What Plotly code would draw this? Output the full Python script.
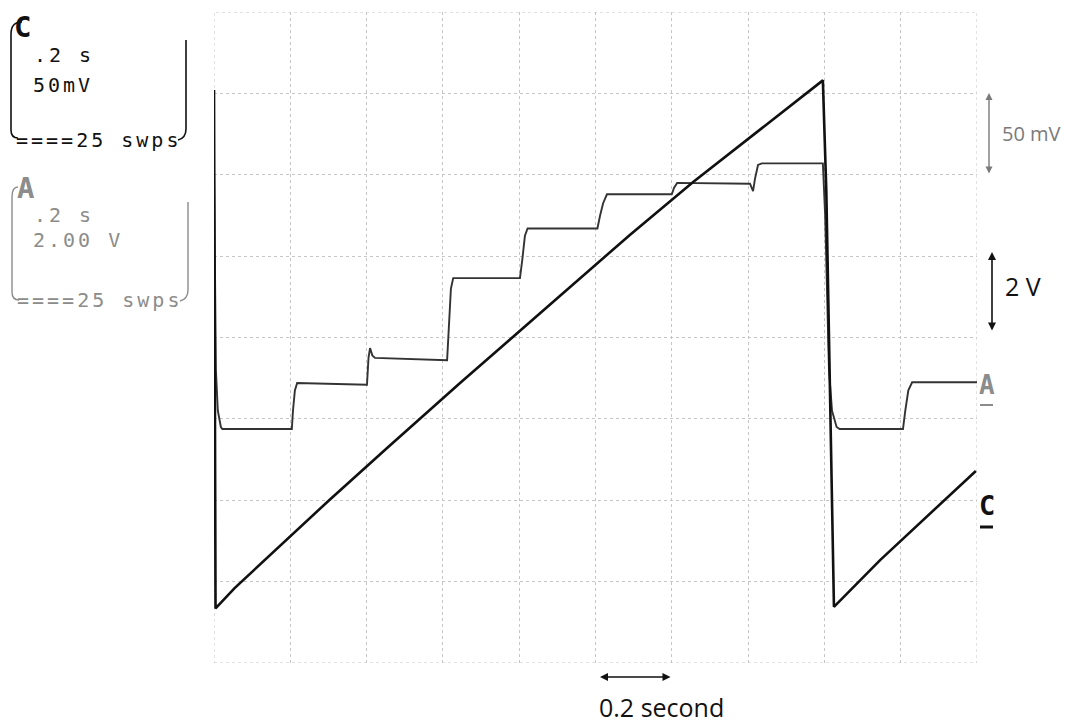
import plotly.graph_objects as go

# ---- Channel C : sawtooth ramp (screen divisions, 50 mV/div) ----
c_time = [0.000, 0.003, 0.004, 0.054, 0.134, 0.200, 0.304, 0.453, 0.645, 0.899,
          1.090, 1.256, 1.420, 1.596, 1.605, 1.625, 1.746, 1.872, 1.997]
c_div = [7.04, 2.00, 0.67, 0.92, 1.265, 1.55, 2.01, 2.64, 3.44, 4.48,
         5.26, 5.91, 6.51, 7.16, 5.80, 0.69, 1.265, 1.81, 2.36]

# ---- Channel A : staircase (screen divisions, 2 V/div) ----
a_time = [0.000, 0.005, 0.010, 0.018, 0.022,
          0.204, 0.207, 0.212, 0.218, 0.401,
          0.405, 0.409, 0.415, 0.422, 0.611,
          0.616, 0.621, 0.627, 0.802,
          0.808, 0.815, 0.822, 1.005,
          1.012, 1.020, 1.030, 1.200,
          1.206, 1.214, 1.405, 1.413, 1.418, 1.426, 1.436, 1.596,
          1.602, 1.612, 1.620, 1.632, 1.640, 1.806,
          1.812, 1.820, 1.830, 2.000]
a_div = [6.14, 3.60, 3.10, 2.90, 2.875,
         2.875, 3.10, 3.35, 3.44, 3.42,
         3.75, 3.87, 3.78, 3.75, 3.72,
         4.20, 4.60, 4.73, 4.73,
         4.95, 5.25, 5.34, 5.34,
         5.50, 5.65, 5.76, 5.76,
         5.84, 5.90, 5.89, 5.80, 5.95, 6.12, 6.14, 6.14,
         5.50, 3.60, 3.10, 2.90, 2.875, 2.875,
         3.10, 3.35, 3.45, 3.45]

W, H = 1070, 726
L, R, T, B = 214, 93, 12, 63
PW, PH = W - L - R, H - T - B


def px(x):
    return (x - L) / PW


def py(y):
    return (H - B - y) / PH


def path(cmds):
    out = []
    for c, pts in cmds:
        out.append(c + " " + " ".join(f"{px(x):.5f},{py(y):.5f}" for x, y in pts))
    return " ".join(out)


fig = go.Figure()
fig.add_trace(go.Scatter(x=a_time, y=a_div, mode="lines",
                         line=dict(color="#333333", width=1.9), hoverinfo="skip"))
fig.add_trace(go.Scatter(x=c_time, y=c_div, mode="lines",
                         line=dict(color="#111111", width=2.6), hoverinfo="skip"))

GRID = "#c6c6c6"
grid = dict(showticklabels=False, ticks="", zeroline=False, showline=False,
            showgrid=True, gridcolor=GRID, griddash="dot", gridwidth=1)
fig.update_xaxes(range=[0, 2.0], dtick=0.2, tick0=0, **grid)
fig.update_yaxes(range=[0, 8], dtick=1, tick0=0, **grid)

shapes = []
# dotted frame of the graticule
shapes.append(dict(type="rect", xref="x", yref="y", x0=0, x1=2.0, y0=0, y1=8,
                   line=dict(color=GRID, width=1, dash="dot"), layer="below"))
# bracket around the channel C readout
shapes.append(dict(type="path", xref="paper", yref="paper",
                   path=path([("M", [(22, 22)]), ("Q", [(11, 22), (11, 34)]),
                              ("L", [(11, 130)]), ("Q", [(11, 138), (18, 138)])]),
                   line=dict(color="#111", width=1.6)))
shapes.append(dict(type="path", xref="paper", yref="paper",
                   path=path([("M", [(186, 40)]), ("L", [(186, 129)]),
                              ("Q", [(186, 138), (178, 140)])]),
                   line=dict(color="#111", width=1.6)))
# bracket around the channel A readout
shapes.append(dict(type="path", xref="paper", yref="paper",
                   path=path([("M", [(18, 187)]), ("Q", [(12, 187), (12, 197)]),
                              ("L", [(12, 292)]), ("Q", [(12, 300), (19, 300)])]),
                   line=dict(color="#8c8c8c", width=1.4)))
shapes.append(dict(type="path", xref="paper", yref="paper",
                   path=path([("M", [(188, 202)]), ("L", [(188, 290)]),
                              ("Q", [(188, 299), (180, 301)])]),
                   line=dict(color="#8c8c8c", width=1.4)))
# underlines of the trace markers
shapes.append(dict(type="line", xref="paper", yref="paper",
                   x0=px(980), x1=px(993), y0=py(405), y1=py(405),
                   line=dict(color="#8c8c8c", width=2)))
shapes.append(dict(type="line", xref="paper", yref="paper",
                   x0=px(980), x1=px(993), y0=py(527), y1=py(527),
                   line=dict(color="#111", width=3)))

mono = "DejaVu Sans Mono"
sans = "Open Sans"


def text(x, y, s, size, color, family=mono, anchor="left"):
    return dict(x=px(x), y=py(y), xref="paper", yref="paper", text=s,
                showarrow=False, xanchor=anchor, yanchor="middle",
                font=dict(family=family, size=size, color=color))


def wide(s):
    return f'<span style="letter-spacing:3px">{s}</span>'


anns = [
    text(12, 27, "<b>C</b>", 29, "#111"),
    text(32, 55, wide(".2 s"), 20, "#111"),
    text(31, 85, wide("50mV"), 20, "#111"),
    text(14, 140, wide("====25 swps"), 20, "#111"),
    text(15, 188, "<b>A</b>", 29, "#8c8c8c"),
    text(32, 215, wide(".2 s"), 20, "#8c8c8c"),
    text(31, 240, wide("2.00 V"), 20, "#8c8c8c"),
    text(15, 300, wide("====25 swps"), 20, "#8c8c8c"),
    text(977, 385, "<b>A</b>", 26, "#8c8c8c"),
    text(977, 505, "<b>C</b>", 27, "#111"),
    text(1000, 133, "50 mV", 20, "#7a7a7a", family=sans),
    text(1003, 286, "2 V", 25, "#111", family=sans),
    text(661, 707, "0.2 second", 25, "#111", family=sans, anchor="center"),
]


def arrow(x, y, dx, dy, color, width):
    return dict(x=px(x), y=py(y), xref="paper", yref="paper", text="",
                showarrow=True, ax=dx, ay=dy, axref="pixel", ayref="pixel",
                arrowside="end+start", arrowhead=2, startarrowhead=2,
                arrowsize=1, startarrowsize=1, arrowwidth=width,
                arrowcolor=color, standoff=0, startstandoff=0)


anns += [
    arrow(989, 93, 0, 82, "#7a7a7a", 1.4),
    arrow(992, 252, 0, 80, "#111", 1.6),
    arrow(600, 677, 72, 0, "#111", 1.6),
]

fig.update_layout(width=W, height=H, margin=dict(l=L, r=R, t=T, b=B, pad=0),
                  paper_bgcolor="white", plot_bgcolor="white", showlegend=False,
                  shapes=shapes, annotations=anns)

fig.write_html("out.html")
